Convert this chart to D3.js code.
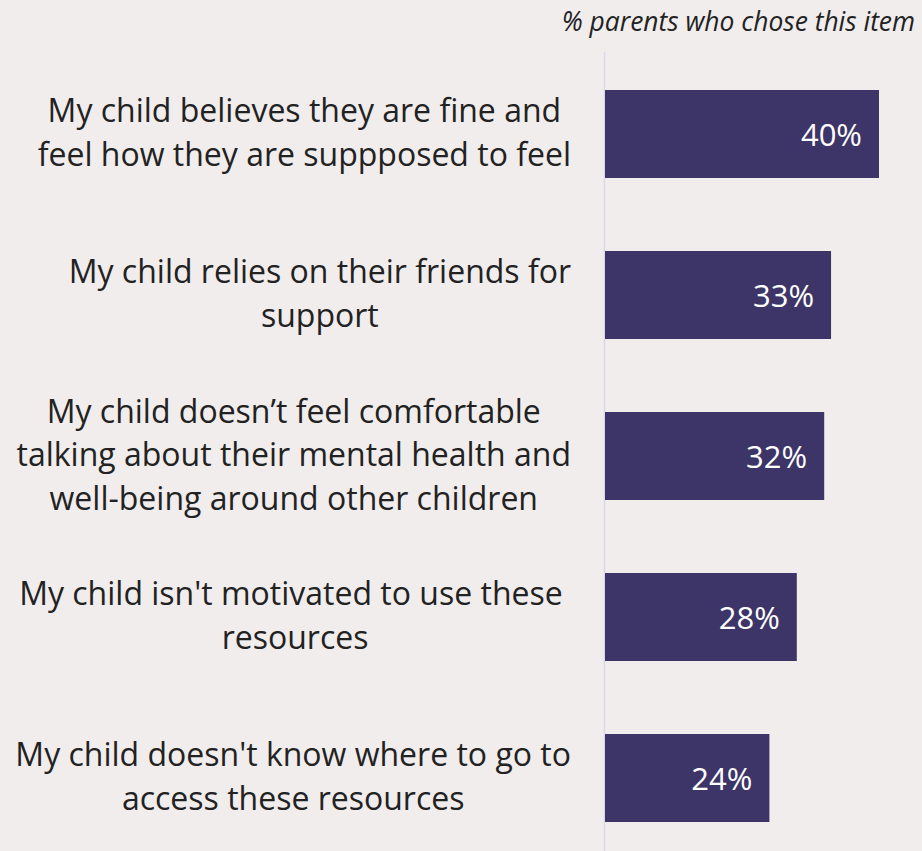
<!DOCTYPE html>
<html>
<head>
<meta charset="utf-8">
<script src="https://cdn.jsdelivr.net/npm/d3@7"></script>
<style>
  html, body { margin: 0; padding: 0; background: #f1eded; }
  svg { display: block; font-family: "Open Sans", sans-serif; }
  text.cat { white-space: pre; }
</style>
</head>
<body>
<svg id="chart"></svg>
<script>
// Chart data
const categories = [
  ["My child believes they are fine and", "feel how they are suppposed to feel"],
  ["My child relies on their friends for", "support"],
  ["My child doesn\u2019t feel comfortable", "talking about their mental health and", "well-being around other children"],
  ["My child isn't motivated to use these ", "resources"],
  ["My child doesn't know where to go to", "access these resources"]
];
const values = [40, 33, 32, 28, 24];
const valueLabels = ["40%", "33%", "32%", "28%", "24%"];
const subtitle = "% parents who chose this item";

const width = 922, height = 851;
const svg = d3.select("#chart").attr("width", width).attr("height", height);

svg.append("rect").attr("width", width).attr("height", height).attr("fill", "#f1eded");

const ids = d3.range(values.length);

const x = d3.scaleLinear().domain([0, 40]).range([605, 879]);
const y = d3.scaleBand().domain(ids).range([53.5, 858.5]).paddingInner(0.4534).paddingOuter(0.2267);

// vertical baseline
svg.append("line")
  .attr("x1", 604.5).attr("x2", 604.5)
  .attr("y1", 52).attr("y2", height)
  .attr("stroke", "#dcd8ea").attr("stroke-width", 1.5);

// subtitle
svg.append("text")
  .attr("x", 915).attr("y", 31)
  .attr("text-anchor", "end")
  .attr("font-style", "italic")
  .attr("font-size", 26.4)
  .attr("fill", "#222")
  .text(subtitle);

// bars
svg.selectAll("rect.bar")
  .data(ids)
  .enter().append("rect")
  .attr("class", "bar")
  .attr("x", x(0))
  .attr("y", d => y(d))
  .attr("width", d => x(values[d]) - x(0))
  .attr("height", y.bandwidth())
  .attr("fill", "#3d3468");

// value labels
svg.selectAll("text.val")
  .data(ids)
  .enter().append("text")
  .attr("class", "val")
  .attr("x", d => x(values[d]) - 17)
  .attr("y", d => y(d) + y.bandwidth() / 2 + 12)
  .attr("text-anchor", "end")
  .attr("font-size", 31)
  .attr("fill", "#fff")
  .text(d => valueLabels[d]);

// category labels: centred lines, block right edge at 571
const lineH = 43.5;
ids.forEach(i => {
  const lines = categories[i];
  const cy = y(i) + y.bandwidth() / 2;
  const g = svg.append("g");
  const texts = lines.map((ln, k) => g.append("text")
    .attr("class", "cat")
    .attr("y", cy + (k - (lines.length - 1) / 2) * lineH + 10)
    .attr("text-anchor", "middle")
    .attr("font-size", 32)
    .attr("fill", "#222")
    .text(ln));
  const maxW = d3.max(texts, t => t.node().getComputedTextLength());
  texts.forEach(t => t.attr("x", 571 - maxW / 2));
});
</script>
</body>
</html>
